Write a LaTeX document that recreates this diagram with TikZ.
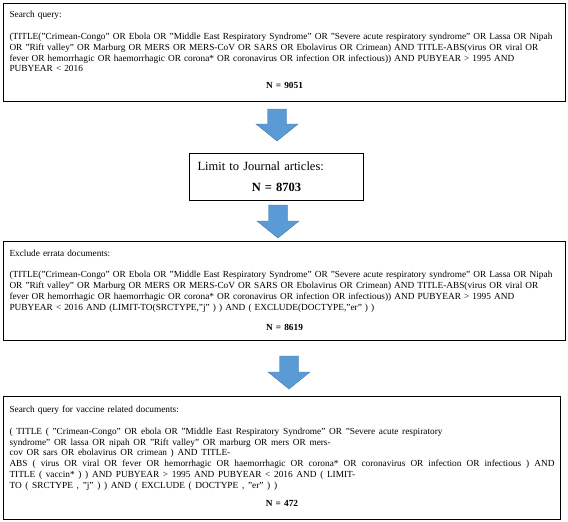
\documentclass[tikz,border=0pt]{standalone}
\usepackage{fontspec}
\setmainfont{Liberation Serif}
\usepackage{tikz}
\usetikzlibrary{positioning}

\definecolor{arrowblue}{RGB}{91,155,213}

\begin{document}
\begin{tikzpicture}[x=1pt, y=-1pt,
    box/.style={draw, line width=1pt, anchor=north west, inner xsep=6pt, inner ysep=0pt,
      font=\fontsize{9.3}{10.8}\selectfont},
    blockarrow/.style={fill=arrowblue, draw=arrowblue!75!black, line width=0.4pt}]
    \useasboundingbox (0,0) rectangle (568,522);

    % Draw the search steps
    \node[box, text width=550pt, minimum height=98pt] (query) at (3,3) {%
      {\raggedright Search query:\\[11pt]
      (TITLE("Crimean-Congo" OR Ebola OR "Middle East Respiratory Syndrome" OR "Severe acute respiratory syndrome" OR Lassa OR Nipah\\
      OR "Rift valley" OR Marburg OR MERS OR MERS-CoV OR SARS OR Ebolavirus OR Crimean) AND TITLE-ABS(virus OR viral OR\\
      fever OR hemorrhagic OR haemorrhagic OR corona* OR coronavirus OR infection OR infectious)) AND PUBYEAR > 1995 AND\\
      PUBYEAR < 2016\par}
      \vspace{6pt}
      {\centering\bfseries N = 9051\par}\kern5pt};

    \node[box, inner xsep=8pt, text width=158pt, minimum height=47pt,
      font=\fontsize{12.5}{15}\selectfont] (limit) at (189,153) {%
      {\raggedright Limit to Journal articles:\par}
      \vspace{6pt}
      {\centering\bfseries N = 8703\par}};

    \node[box, text width=550pt, minimum height=99pt] (errata) at (3,241) {%
      {\raggedright Exclude errata documents:\\[11pt]
      (TITLE("Crimean-Congo" OR Ebola OR "Middle East Respiratory Syndrome" OR "Severe acute respiratory syndrome" OR Lassa OR Nipah\\
      OR "Rift valley" OR Marburg OR MERS OR MERS-CoV OR SARS OR Ebolavirus OR Crimean) AND TITLE-ABS(virus OR viral OR\\
      fever OR hemorrhagic OR haemorrhagic OR corona* OR coronavirus OR infection OR infectious)) AND PUBYEAR > 1995 AND\\
      PUBYEAR < 2016 AND (LIMIT-TO(SRCTYPE,"j" ) ) AND ( EXCLUDE(DOCTYPE,"er" ) )\par}
      \vspace{9pt}
      {\centering\bfseries N = 8619\par}\kern2pt};

    \node[box, text width=545pt, minimum height=123pt] (vaccine) at (3,396) {%
      {\raggedright Search query for vaccine related documents:\\[11pt]
      \spaceskip=3.7pt plus 2pt\relax
      ( TITLE ( "Crimean-Congo" OR ebola OR "Middle East Respiratory Syndrome" OR "Severe acute respiratory\\
      syndrome" OR lassa OR nipah OR "Rift valley" OR marburg OR mers OR mers-\\
      cov OR sars OR ebolavirus OR crimean ) AND TITLE-\\
      \makebox[\linewidth][s]{ABS ( virus OR viral OR fever OR hemorrhagic OR haemorrhagic OR corona* OR coronavirus OR infection OR infectious ) AND}\\
      TITLE ( vaccin* ) ) AND PUBYEAR > 1995 AND PUBYEAR < 2016 AND ( LIMIT-\\
      TO ( SRCTYPE , "j" ) ) AND ( EXCLUDE ( DOCTYPE , "er" ) )\par}
      \vspace{7pt}
      {\centering\bfseries N = 472\par}\kern4pt};

    % Draw the block arrows between the steps
    \foreach \x/\top/\tip in {277/109/141, 278/205/238, 289/356/389} {
      \filldraw[blockarrow] (\x-9.5,\top) -- (\x+9.5,\top) -- (\x+9.5,\tip-17) -- (\x+21,\tip-17)
        -- (\x,\tip) -- (\x-21,\tip-17) -- (\x-9.5,\tip-17) -- cycle;
    }
\end{tikzpicture}
\end{document}
